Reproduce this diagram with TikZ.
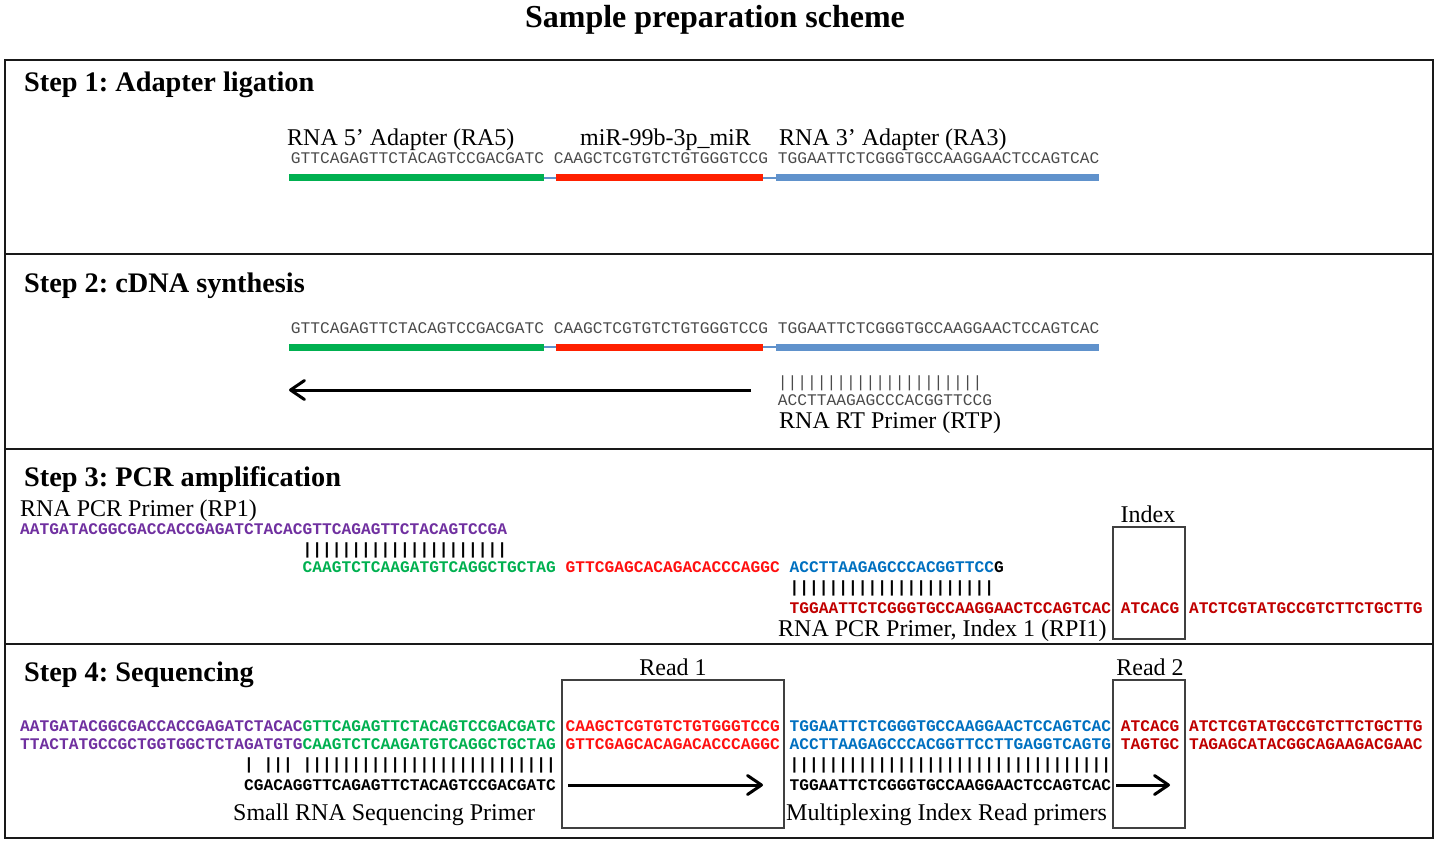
\documentclass[tikz,border=0pt]{standalone}
\usepackage{fontspec}
\setmainfont{Liberation Serif}
\newfontfamily\monofam{Liberation Mono}
\usetikzlibrary{arrows.meta}
\frenchspacing
\definecolor{seqgrey}{HTML}{4A4A4A}
\definecolor{barGreen}{RGB}{0,176,80}
\definecolor{barRed}{RGB}{255,32,0}
\definecolor{barBlue}{RGB}{96,146,204}
\definecolor{cPurple}{HTML}{7030A0}
\definecolor{cGreen}{HTML}{00B050}
\definecolor{cRed}{HTML}{FF1010}
\definecolor{cBlue}{HTML}{0070C0}
\definecolor{cDred}{HTML}{C00000}
\definecolor{boxgrey}{HTML}{404040}
\newcommand\fivetk{|||||}
\def\cw{9.74}
\tikzset{
  ttl/.style={font=\bfseries\fontsize{32}{36}\selectfont, anchor=base, inner sep=0},
  head/.style={font=\bfseries\fontsize{28.3}{32}\selectfont, anchor=base west, inner sep=0},
  lbl/.style={font=\fontsize{24}{28}\selectfont, anchor=base west, inner sep=0},
  lblc/.style={font=\fontsize{24}{28}\selectfont, anchor=base, inner sep=0},
  seqA/.style={font=\monofam\fontsize{16.23}{18}\selectfont, text=seqgrey, anchor=base west, inner sep=0},
  seqB/.style={font=\monofam\bfseries\fontsize{16.23}{18}\selectfont, anchor=base west, inner sep=0},
  panel/.style={line width=2.2pt, draw=black!90},
  bar/.style={line width=7pt},
  link/.style={line width=1.6pt, draw=barBlue},
  bigarrow/.style={line width=3pt, -{Straight Barb[length=14pt,width=19pt,line cap=round,line join=round]}},
  framebox/.style={line width=1.5pt, draw=boxgrey}
}
\begin{document}
\begin{tikzpicture}[x=1pt,y=-1pt]
\useasboundingbox (0,0) rectangle (1439,845);
\node[ttl] (title) at (715,28) {Sample preparation scheme};
% panels
\draw[panel] (5,60) rectangle (1433,838);
\draw[panel] (5,254) -- (1433,254);
\draw[panel] (5,449) -- (1433,449);
\draw[panel] (5,644) -- (1433,644);
% ---------- Step 1
\node[head] (h1) at (24,92) {Step 1: Adapter ligation};
\node[lbl] (l5) at (287,146) {RNA 5’ Adapter (RA5)};
\node[lbl] (lmir) at (580,146) {miR-99b-3p\_miR};
\node[lbl] (l3) at (779,146) {RNA 3’ Adapter (RA3)};
\node[seqA] (s1a) at ({18+28*\cw},163.5) {GTTCAGAGTTCTACAGTCCGACGATC};
\node[seqA] (s1b) at ({18+55*\cw},163.5) {CAAGCTCGTGTCTGTGGGTCCG};
\node[seqA] (s1c) at ({18+78*\cw},163.5) {TGGAATTCTCGGGTGCCAAGGAACTCCAGTCAC};
\draw[link] (544,178) -- (556,178);
\draw[link] (763,178) -- (776,178);
\draw[bar, barGreen] (289,178) -- (544,178);
\draw[bar, barRed] (556,178) -- (763,178);
\draw[bar, barBlue] (776,178) -- (1099,178);
% ---------- Step 2
\node[head] (h2) at (24,292) {Step 2: cDNA synthesis};
\node[seqA] (s2a) at ({18+28*\cw},333.5) {GTTCAGAGTTCTACAGTCCGACGATC};
\node[seqA] (s2b) at ({18+55*\cw},333.5) {CAAGCTCGTGTCTGTGGGTCCG};
\node[seqA] (s2c) at ({18+78*\cw},333.5) {TGGAATTCTCGGGTGCCAAGGAACTCCAGTCAC};
\draw[link] (544,347) -- (556,347);
\draw[link] (763,347) -- (776,347);
\draw[bar, barGreen] (289,347) -- (544,347);
\draw[bar, barRed] (556,347) -- (763,347);
\draw[bar, barBlue] (776,347) -- (1099,347);
\coordinate (a2s) at (751,390);
\coordinate (a2e) at (289,390);
\draw[bigarrow] (a2s) -- (a2e);
\node[seqA] (t2) at ({18+78*\cw},387) {\fivetk\fivetk\fivetk\fivetk|};
\node[seqA] (rtp) at ({18+78*\cw},405.5) {ACCTTAAGAGCCCACGGTTCCG};
\node[lbl] (lrtp) at (779,428) {RNA RT Primer (RTP)};
% ---------- Step 3
\node[head] (h3) at (24,486) {Step 3: PCR amplification};
\node[lbl] (lrp1) at (20,516) {RNA PCR Primer (RP1)};
\node[seqB, text=cPurple] (rp1) at (20,534.5) {AATGATACGGCGACCACCGAGATCTACACGTTCAGAGTTCTACAGTCCGA};
\node[seqB] (t3a) at ({20+29*\cw},554.7) {\fivetk\fivetk\fivetk\fivetk|};
\node[seqB, text=cGreen] (s3g) at ({20+29*\cw},572.5) {CAAGTCTCAAGATGTCAGGCTGCTAG};
\node[seqB, text=cRed] (s3r) at ({20+56*\cw},572.5) {GTTCGAGCACAGACACCCAGGC};
\node[seqB, text=cBlue] (s3b) at ({20+79*\cw},572.5) {ACCTTAAGAGCCCACGGTTCC};
\node[seqB] (s3k) at ({20+100*\cw},572.5) {G};
\node[seqB] (t3b) at ({20+79*\cw},592.7) {\fivetk\fivetk\fivetk\fivetk|};
\node[seqB, text=cDred] (s3d1) at ({20+79*\cw},613.5) {TGGAATTCTCGGGTGCCAAGGAACTCCAGTCAC};
\node[seqB, text=cDred] (s3d2) at ({20+113*\cw},613.5) {ATCACG};
\node[seqB, text=cDred] (s3d3) at ({20+120*\cw},613.5) {ATCTCGTATGCCGTCTTCTGCTTG};
\node[lbl] (lrpi) at (778,636) {RNA PCR Primer, Index 1 (RPI1)};
\draw[framebox] (1113,527) rectangle (1185,639);
\node[lblc] (lidx) at (1148,522) {Index};
% ---------- Step 4
\node[head] (h4) at (24,681) {Step 4: Sequencing};
\draw[framebox] (562,680) rectangle (784,828);
\draw[framebox] (1113,680) rectangle (1185,828);
\node[lblc] (lr1) at (673,675) {Read 1};
\node[lblc] (lr2) at (1150,675) {Read 2};
\node[seqB, text=cPurple] (r1p) at (20,731.5) {AATGATACGGCGACCACCGAGATCTACAC};
\node[seqB, text=cGreen] (r1g) at ({20+29*\cw},731.5) {GTTCAGAGTTCTACAGTCCGACGATC};
\node[seqB, text=cRed] (r1r) at ({20+56*\cw},731.5) {CAAGCTCGTGTCTGTGGGTCCG};
\node[seqB, text=cBlue] (r1b) at ({20+79*\cw},731.5) {TGGAATTCTCGGGTGCCAAGGAACTCCAGTCAC};
\node[seqB, text=cDred] (r1d) at ({20+113*\cw},731.5) {ATCACG};
\node[seqB, text=cDred] (r1e) at ({20+120*\cw},731.5) {ATCTCGTATGCCGTCTTCTGCTTG};
\node[seqB, text=cPurple] (r2p) at (20,749.5) {TTACTATGCCGCTGGTGGCTCTAGATGTG};
\node[seqB, text=cGreen] (r2g) at ({20+29*\cw},749.5) {CAAGTCTCAAGATGTCAGGCTGCTAG};
\node[seqB, text=cRed] (r2r) at ({20+56*\cw},749.5) {GTTCGAGCACAGACACCCAGGC};
\node[seqB, text=cBlue] (r2b) at ({20+79*\cw},749.5) {ACCTTAAGAGCCCACGGTTCCTTGAGGTCAGTG};
\node[seqB, text=cDred] (r2d) at ({20+113*\cw},749.5) {TAGTGC};
\node[seqB, text=cDred] (r2e) at ({20+120*\cw},749.5) {TAGAGCATACGGCAGAAGACGAAC};
\node[seqB] (t4a) at ({20+23*\cw},769.7) {|\hphantom{|}|||\hphantom{|}\fivetk\fivetk\fivetk\fivetk\fivetk|};
\node[seqB] (t4b) at ({20+79*\cw},769.7) {\fivetk\fivetk\fivetk\fivetk\fivetk\fivetk|||};
\node[seqB] (p4a) at ({20+23*\cw},790.5) {CGACAGGTTCAGAGTTCTACAGTCCGACGATC};
\node[seqB] (p4b) at ({20+79*\cw},790.5) {TGGAATTCTCGGGTGCCAAGGAACTCCAGTCAC};
\coordinate (a4s) at (568,785);
\coordinate (a4e) at (763,785);
\draw[bigarrow] (a4s) -- (a4e);
\coordinate (a5s) at (1116,785);
\coordinate (a5e) at (1170,785);
\draw[bigarrow] (a5s) -- (a5e);
\node[lbl] (lsp) at (233,820) {Small RNA Sequencing Primer};
\node[lbl] (lmp) at (786,820) {Multiplexing Index Read primers};
\end{tikzpicture}
\end{document}
